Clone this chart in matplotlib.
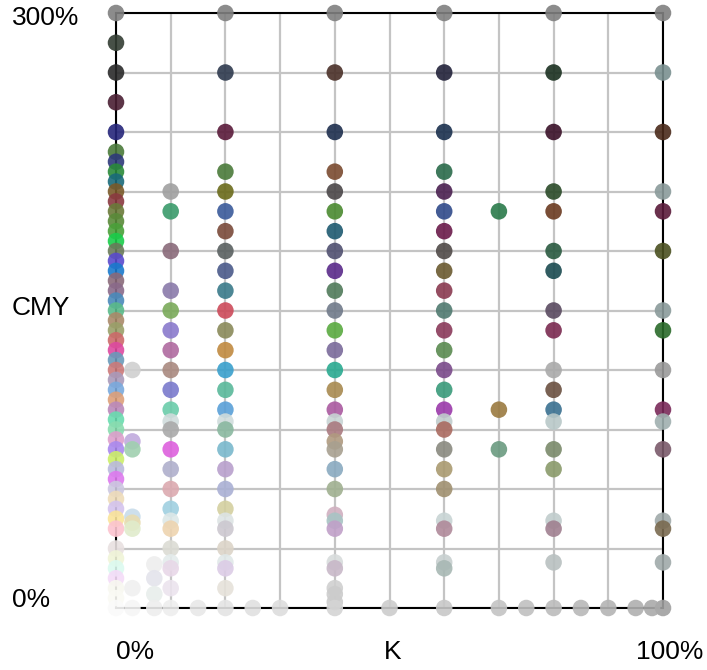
import matplotlib
matplotlib.use("Agg")
import matplotlib.pyplot as plt

# ---- data: (K %, CMY %, colour) per column ----
k0_cmy = [300, 285, 270, 255, 240, 230, 225, 220, 215, 210, 205, 200, 195, 190, 185, 180, 175, 170,
          165, 160, 155, 150, 145, 140, 135, 130, 125, 120, 115, 110, 105, 100, 95, 90, 85, 80, 75,
          70, 65, 60, 55, 50, 45, 40, 30, 25, 20, 15, 10, 5, 0]
k0_col = ["#808080", "#333d33", "#2a2a2a", "#4a1f33", "#25257a", "#4a7a3a", "#2e3a7a", "#2a8a3a",
          "#1a6a7a", "#7a5a2a", "#8a3a40", "#6a7a3a", "#5a8a3a", "#4aa03a", "#1acc4a", "#6a7a5a",
          "#5a4acc", "#1a7acc", "#8a6a7a", "#8a6a8a", "#4a8aba", "#5aba8a", "#aa8a6a", "#9aa06a",
          "#cc6a6a", "#dd4aa0", "#6a9aba", "#cc7a7a", "#aa9aba", "#7aaadd", "#dda07a", "#bb8abb",
          "#6adcb0", "#8adcb0", "#dda0cc", "#aa8aee", "#ccee6a", "#babadd", "#dd7aee", "#ccc8e0",
          "#eedcba", "#d4c4ee", "#fae49a", "#fcc4d0", "#e8e0e0", "#f0f4d8", "#dcfaf0", "#f4dcf8",
          "#f8f8f0", "#fafaf4", "#fafafa"]

k3_cmy = [120, 84, 80, 46, 43, 40, 10, 0]
k3_col = ["#d0d0d0", "#c0aadd", "#a0d0b0", "#c8dcea", "#e8dcb0", "#e0eccc", "#f0f0f0", "#f6f6f6"]

k7_cmy = [22, 15, 7, 0]
k7_col = ["#eeeeee", "#e4e4ec", "#e8eeec", "#eeeeee"]

k10_cmy = [210, 200, 180, 160, 150, 140, 130, 120, 110, 100, 94, 90, 80, 70, 60, 50, 44, 40, 30,
           23, 20, 10, 0]
k10_col = ["#a0a0a0", "#3a9a6a", "#8a6a7a", "#8a7aaa", "#7aaa5a", "#8a7acc", "#b06aa0", "#aa8a80",
           "#7a7acc", "#6accaa", "#d0dcdc", "#aaaaaa", "#dd60dd", "#b0b0cc", "#dcaab0", "#a0d0e0",
           "#dde8e8", "#eed4b0", "#dcdcd4", "#e4ecec", "#e8d8e8", "#ece4ee", "#eeeeee"]

k20_cmy = [300, 270, 240, 220, 210, 200, 190, 180, 170, 160, 150, 140, 130, 120, 110, 100, 94, 90,
           80, 70, 60, 50, 44, 40, 30, 23, 20, 10, 0]
k20_col = ["#808080", "#2e3a4e", "#5a1a3a", "#4a7a3a", "#6a6a1a", "#3a5a9a", "#7a4a3a", "#5a6060",
           "#4a5a8a", "#3a7a8a", "#cc4a5a", "#8a8a5a", "#c08a40", "#3aa0cc", "#5ab89a", "#5aa0d8",
           "#d0dcdc", "#8ab8a0", "#7ab8cc", "#b8a0cc", "#aab0d4", "#d4d0a0", "#dde4e4", "#ccc8d0",
           "#dcd4c8", "#e0e8e8", "#dccce6", "#e6e2da", "#e4e4e4"]

k40_cmy = [300, 270, 240, 220, 210, 200, 190, 180, 170, 160, 150, 140, 130, 120, 110, 100, 94, 90,
           84, 80, 70, 60, 47, 44, 40, 23, 20, 10, 7, 3, 0]
k40_col = ["#808080", "#4a3028", "#1e2e4e", "#7a4a30", "#4a4648", "#4a8a30", "#1e5a70", "#505070",
           "#5a2a8a", "#507a5a", "#707a8a", "#5aaa40", "#7a6a9a", "#2aaa90", "#a88a50", "#aa5aa0",
           "#c8d4d4", "#aa7a80", "#b09a80", "#a8a090", "#8aaac0", "#a0b090", "#d0b0c0", "#a8c4c4",
           "#c0a0c8", "#d8dcdc", "#c8b8c8", "#d0d0d0", "#cccccc", "#cccccc", "#d4d4d4"]

k60_cmy = [300, 270, 240, 220, 210, 200, 190, 180, 170, 160, 150, 140, 130, 120, 110, 100, 94, 90,
           80, 70, 60, 44, 40, 23, 20, 0]
k60_col = ["#808080", "#22223a", "#1a304e", "#2a6a4a", "#4a2050", "#304a8a", "#6a1a4a", "#504a48",
           "#6a5a30", "#8a3a50", "#507a70", "#8a3a5a", "#5a8a50", "#7a4a8a", "#3a9a7a", "#9a3aaa",
           "#c0cccc", "#aa6a60", "#8a8a80", "#aa9a70", "#a09070", "#c8d4d4", "#b08a9a", "#c8d0d0",
           "#a8b8b4", "#c8c8c8"]

k70_cmy = [200, 100, 80, 0]
k70_col = ["#2a7a4a", "#9a7a40", "#6a9a80", "#c4c4c4"]

k80_cmy = [300, 270, 240, 210, 200, 180, 170, 150, 140, 120, 110, 100, 94, 80, 70, 44, 40, 23, 0]
k80_col = ["#808080", "#1a3020", "#3a1028", "#2a4a28", "#6a3a20", "#2a5a40", "#1a4a50", "#5a4a60",
           "#7a2a50", "#aaaaaa", "#6a5040", "#3a7090", "#b8c8c8", "#7a8a6a", "#8a9a6a", "#c0cccc",
           "#a08090", "#b8c0c0", "#bcbcbc"]

k100_cmy = [300, 270, 240, 210, 200, 180, 150, 140, 120, 100, 94, 80, 44, 40, 23, 0]
k100_col = ["#808080", "#7a9090", "#4a2a1a", "#8a9a9a", "#5a1a3a", "#4a5020", "#8a9a9a", "#2a6a2a",
            "#9a9a9a", "#7a2a5a", "#a0b0b0", "#7a5a6a", "#a0aaaa", "#7a6a50", "#a0aaaa", "#a0a0a0"]

# bottom row (CMY = 0) single points at other K values
base_k = [15, 25, 30, 50, 75, 85, 90, 95, 98]
base_col = ["#e8e8e8", "#e0e0e0", "#dddddd", "#cccccc", "#c0c0c0", "#b8b8b8", "#b4b4b4", "#b0b0b0", "#aaaaaa"]

columns = [(0, k0_cmy, k0_col), (3, k3_cmy, k3_col), (7, k7_cmy, k7_col), (10, k10_cmy, k10_col),
           (20, k20_cmy, k20_col), (40, k40_cmy, k40_col), (60, k60_cmy, k60_col),
           (70, k70_cmy, k70_col), (80, k80_cmy, k80_col), (100, k100_cmy, k100_col)]

xs, ys, cs = [], [], []
for k, cmy, col in columns:
    for v, c in zip(cmy, col):
        xs.append(k); ys.append(v); cs.append(c)
for k, c in zip(base_k, base_col):
    xs.append(k); ys.append(0); cs.append(c)

W, H = 707, 670
fig = plt.figure(figsize=(W / 100, H / 100), dpi=100)
ax = fig.add_axes([116 / W, (H - 608) / H, (663 - 116) / W, (608 - 13) / H])
ax.set_xlim(0, 100)
ax.set_ylim(0, 300)
ax.set_xticks(range(0, 101, 10))
ax.set_yticks(range(0, 301, 30))
ax.tick_params(length=0, labelbottom=False, labelleft=False)
ax.grid(True, color="#c4c4c4", linewidth=1.6)
ax.set_axisbelow(True)
for s in ax.spines.values():
    s.set_color("black")
    s.set_linewidth(1.5)

ax.scatter(xs, ys, s=142, c=cs, alpha=0.9, edgecolors="none", clip_on=False, zorder=3)

fp = dict(family=["Liberation Sans", "DejaVu Sans"], fontsize=19, color="black")
def ftext(px, py, s, ha):
    fig.text(px / W, 1 - py / H, s, ha=ha, va="center", **fp)

ftext(12, 18, "300%", "left")
ftext(12, 308, "CMY", "left")
ftext(12, 600, "0%", "left")
ftext(116, 652, "0%", "left")
ftext(393, 652, "K", "center")
ftext(670, 652, "100%", "center")

fig.savefig("out.png", dpi=100)
